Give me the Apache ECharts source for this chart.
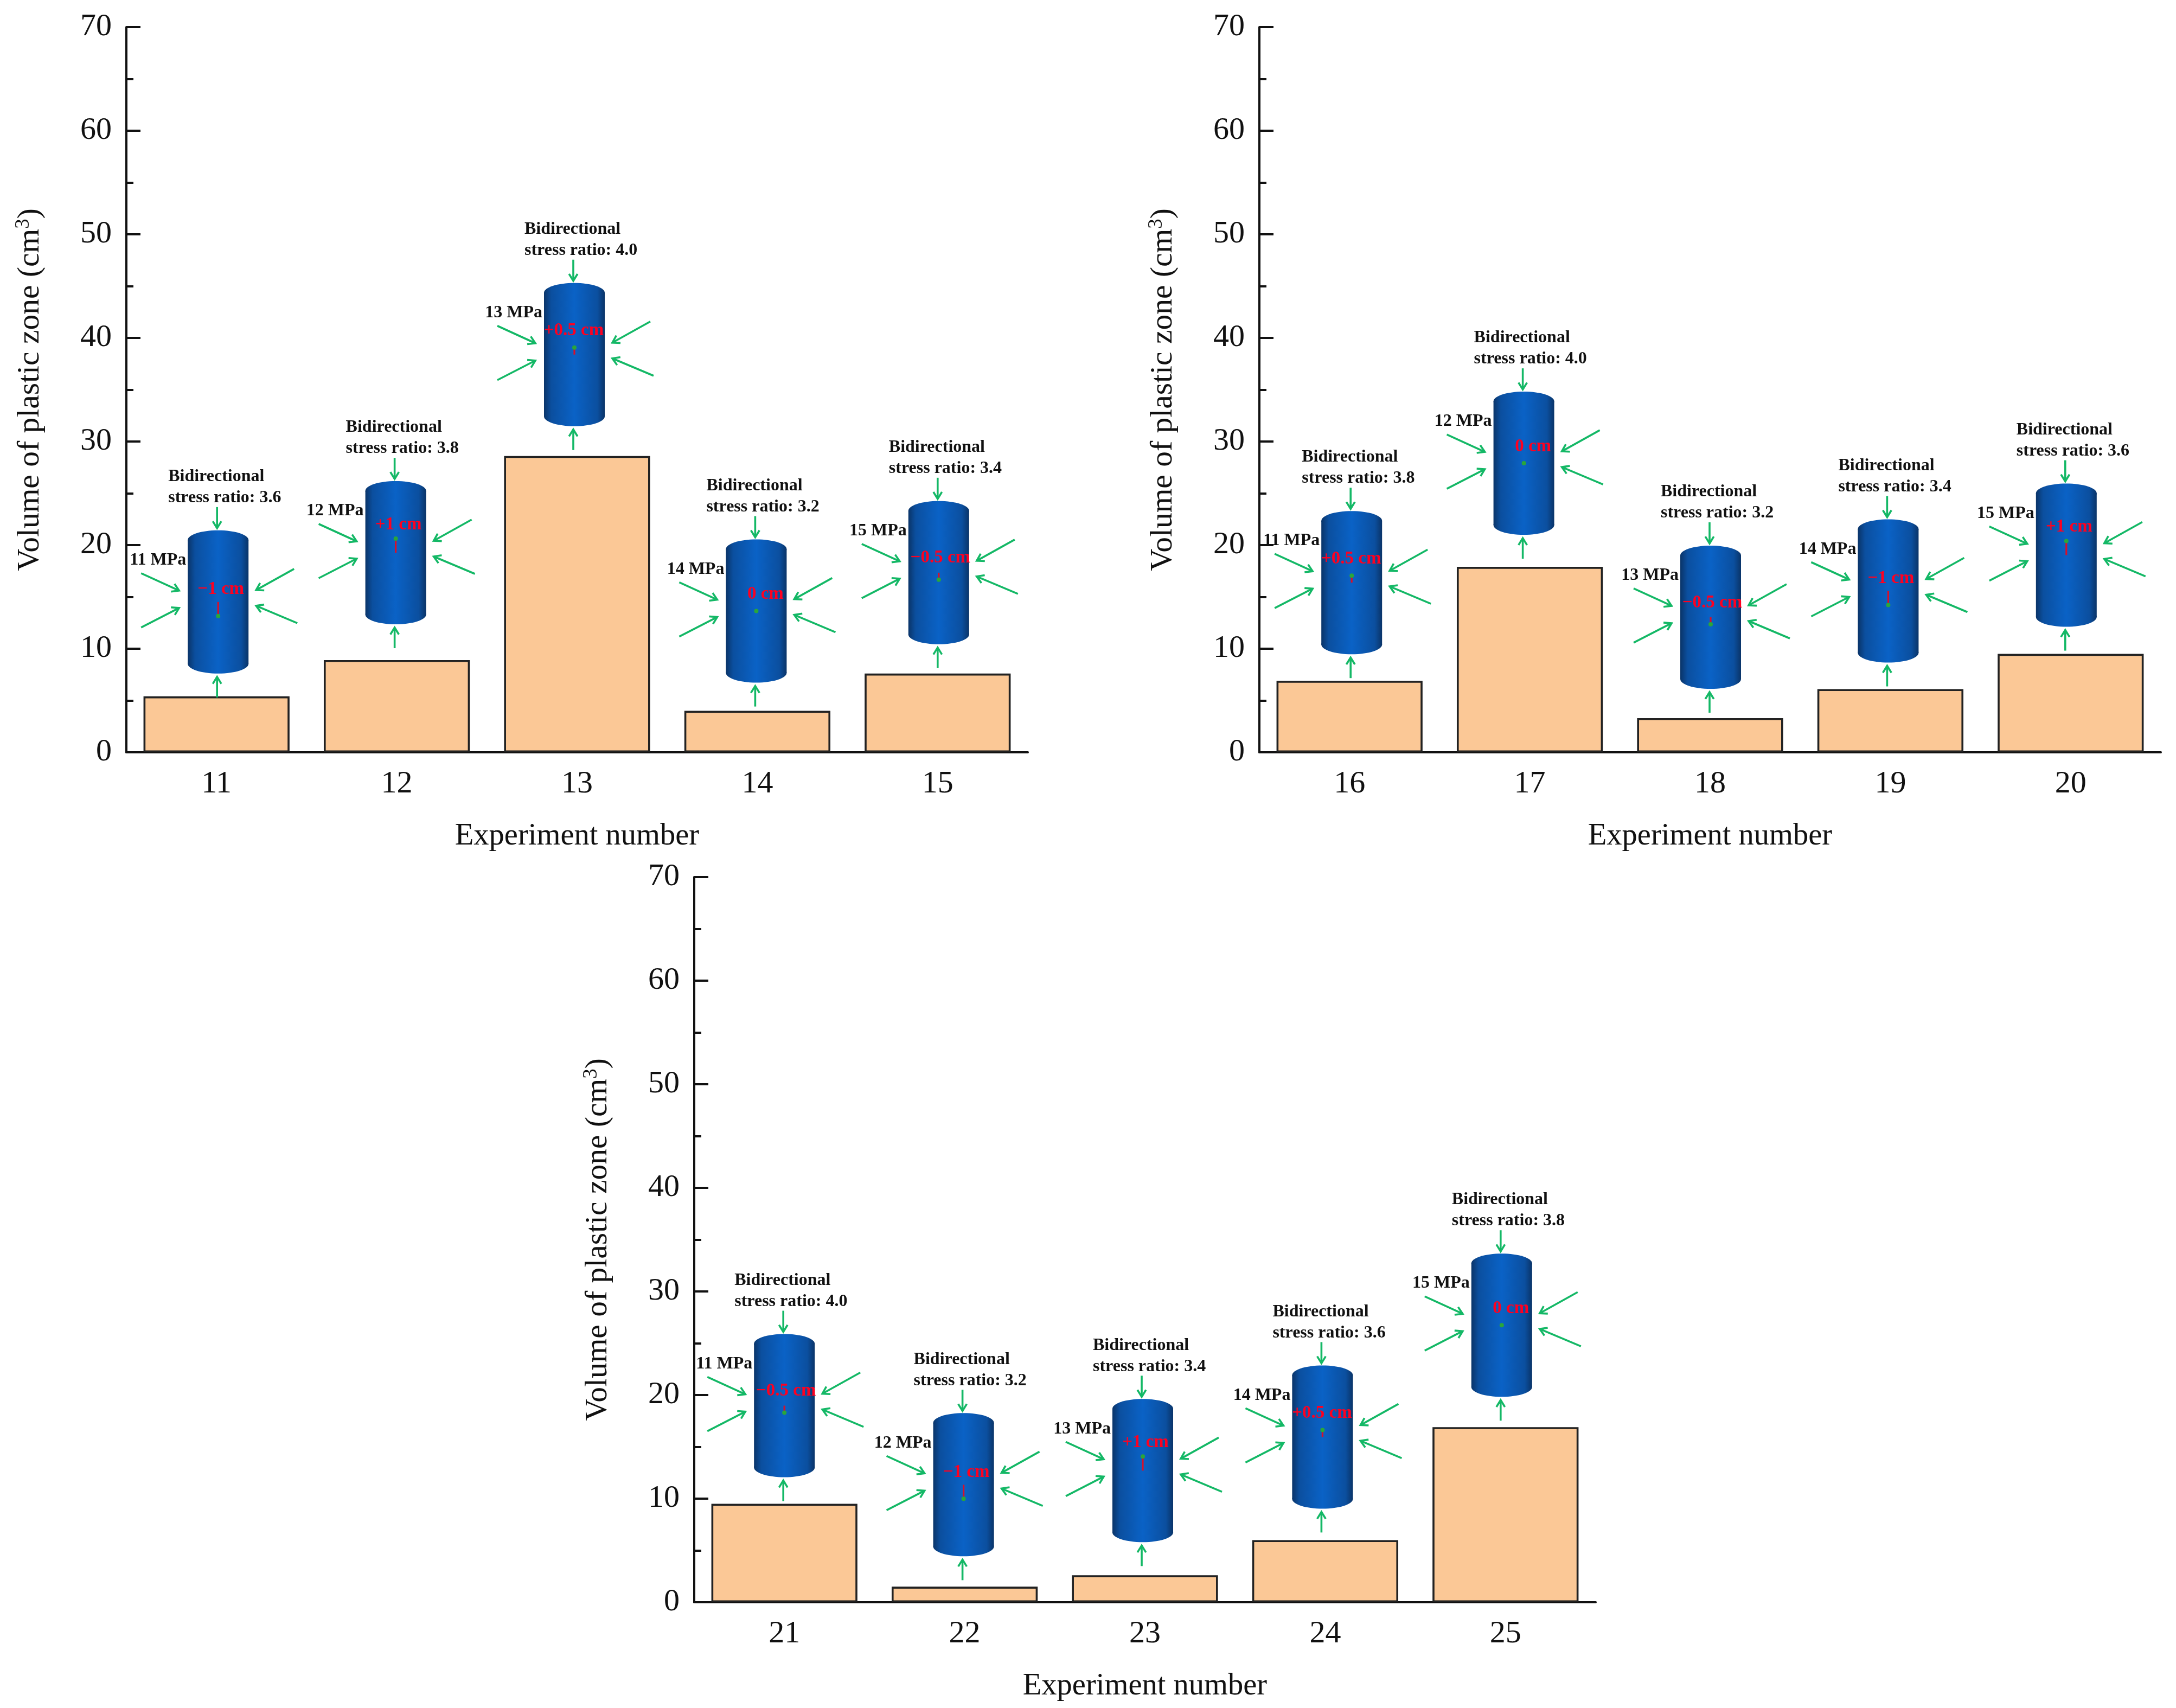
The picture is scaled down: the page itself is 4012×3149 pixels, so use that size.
<!DOCTYPE html>
<html>
<head>
<meta charset="utf-8">
<style>
  html, body { margin: 0; padding: 0; background: #fff; }
  #main { width: 4012px; height: 3149px; }
</style>
<script src="https://cdn.jsdelivr.net/npm/echarts@6/dist/echarts.min.js"></script>
</head>
<body>
<div id="main"></div>
<script>
// 每个面板的数据
const categoriesA = ["11", "12", "13", "14", "15"];
const categoriesB = ["16", "17", "18", "19", "20"];
const categoriesC = ["21", "22", "23", "24", "25"];

const volumeA = [5.4, 8.9, 28.6, 4.0, 7.6];
const volumeB = [6.9, 17.9, 3.3, 6.1, 9.5];
const volumeC = [9.5, 1.5, 2.6, 6.0, 16.9];

const ratioA = ["3.6", "3.8", "4.0", "3.2", "3.4"];
const ratioB = ["3.8", "4.0", "3.2", "3.4", "3.6"];
const ratioC = ["4.0", "3.2", "3.4", "3.6", "3.8"];

const pressure = [11, 12, 13, 14, 15];

const offsetA = [-1, 1, 0.5, 0, -0.5];
const offsetB = [0.5, 0, -0.5, -1, 1];
const offsetC = [-0.5, -1, 1, 0.5, 0];

// 圆柱底部离柱顶的距离（px）
const liftA = [42, 66, 55, 52, 54];
const liftB = [49, 59, 54, 49, 50];
const liftC = [49, 56, 61, 58, 56];

// 圆柱相对类目中心的水平偏移（px）
const nudgeA = [3, -2, -5, -2, 2];
const nudgeB = [4, -11, 1, -4, -8];
const nudgeC = [0, -2, -4, -5, -7];

const FONT = '"Liberation Serif", "Times New Roman", serif';
const GREEN = "#14b866";
const RED = "#ff0020";

// 偏移标签相对圆柱中心的位置
const offsetText = {
  "-1": { label: "\u22121 cm", dx: 5, dy: -23 },
  "-0.5": { label: "\u22120.5 cm", dx: 3, dy: -27 },
  "0": { label: "0 cm", dx: 17, dy: -31 },
  "0.5": { label: "+0.5 cm", dx: -1, dy: -44 },
  "1": { label: "+1 cm", dx: 5, dy: -52 },
};

// 绿色箭头
function arrow(x1, y1, x2, y2) {
  const a = Math.atan2(y2 - y1, x2 - x1);
  const h = 15;
  const spread = 0.55;
  const style = { stroke: GREEN, lineWidth: 3.6, fill: "none" };
  return [
    { type: "line", shape: { x1, y1, x2, y2 }, style },
    {
      type: "polyline",
      shape: {
        points: [
          [x2 - h * Math.cos(a - spread), y2 - h * Math.sin(a - spread)],
          [x2, y2],
          [x2 - h * Math.cos(a + spread), y2 - h * Math.sin(a + spread)],
        ],
      },
      style,
    },
  ];
}

function boldText(text, x, y, align, fill, size) {
  return {
    type: "text",
    style: {
      text,
      x,
      y,
      fill: fill || "#111",
      font: "bold " + (size || 32) + "px " + FONT,
      align,
      verticalAlign: "middle",
    },
  };
}

// 圆柱 + 箭头 + 文字
function renderCylinder(ratios, offsets, lifts, nudges) {
  return function (params, api) {
    const i = api.value(0);
    const top = api.coord([i, api.value(1)]);
    const halfW = 56;
    const halfH = 132;
    const capH = 18;
    const cx = top[0] + nudges[i];
    const cy = top[1] - lifts[i] - halfH;
    const bodyFill = new echarts.graphic.LinearGradient(0, 0, 1, 0, [
      { offset: 0, color: "#0a3468" },
      { offset: 0.12, color: "#0b4f9f" },
      { offset: 0.5, color: "#0a62c6" },
      { offset: 0.88, color: "#0b4f9f" },
      { offset: 1, color: "#0a3468" },
    ]);
    const off = offsets[i];
    const txt = offsetText[String(off)];
    const dotY = cy - off * 26;

    let children = [
      { type: "ellipse", shape: { cx, cy: cy - halfH + capH, rx: halfW, ry: capH }, style: { fill: bodyFill } },
      { type: "ellipse", shape: { cx, cy: cy + halfH - capH, rx: halfW, ry: capH }, style: { fill: bodyFill } },
      {
        type: "rect",
        shape: { x: cx - halfW, y: cy - halfH + capH, width: halfW * 2, height: 2 * (halfH - capH) },
        style: { fill: bodyFill },
      },
    ];
    if (off !== 0) {
      children.push({
        type: "line",
        shape: { x1: cx, y1: cy, x2: cx, y2: dotY },
        style: { stroke: "#d8102a", lineWidth: 3.2 },
      });
    }
    children.push({ type: "circle", shape: { cx, cy: dotY, r: 4 }, style: { fill: "#2aa63a" } });

    children = children.concat(
      arrow(cx - 2, cy - 175, cx - 2, cy - 136),
      arrow(cx - 2, cy + 176, cx - 2, cy + 138),
      arrow(cx - 142, cy - 53, cx - 72, cy - 21),
      arrow(cx - 142, cy + 47, cx - 72, cy + 11),
      arrow(cx + 140, cy - 61, cx + 70, cy - 22),
      arrow(cx + 146, cy + 39, cx + 70, cy + 7)
    );

    children.push(boldText("Bidirectional", cx - 92, cy - 231, "left"));
    children.push(boldText("stress ratio: " + ratios[i], cx - 92, cy - 192, "left"));
    children.push(boldText(pressure[i] + " MPa", cx - 59, cy - 77, "right"));
    children.push(boldText(txt.label, cx + txt.dx, cy + txt.dy, "center", RED, 33));

    return { type: "group", children };
  };
}

const grids = [
  { left: 233, top: 50, width: 1662, height: 1337, outerBoundsMode: "none" },
  { left: 2322, top: 50, width: 1662, height: 1337, outerBoundsMode: "none" },
  { left: 1280, top: 1617, width: 1662, height: 1337, outerBoundsMode: "none" },
];
const panels = [
  { cats: categoriesA, vals: volumeA, ratios: ratioA, offsets: offsetA, lifts: liftA, nudges: nudgeA },
  { cats: categoriesB, vals: volumeB, ratios: ratioB, offsets: offsetB, lifts: liftB, nudges: nudgeB },
  { cats: categoriesC, vals: volumeC, ratios: ratioC, offsets: offsetC, lifts: liftC, nudges: nudgeC },
];

const xAxis = [];
const yAxis = [];
const series = [];
panels.forEach((p, k) => {
  xAxis.push({
    type: "category",
    gridIndex: k,
    data: p.cats,
    name: "Experiment number",
    nameLocation: "middle",
    nameGap: 127,
    nameTextStyle: { fontFamily: FONT, fontSize: 56.5, color: "#111" },
    axisLine: { lineStyle: { color: "#111", width: 4 } },
    axisTick: { show: false },
    axisLabel: { fontFamily: FONT, fontSize: 58, color: "#111", margin: 30 },
  });
  yAxis.push({
    type: "value",
    gridIndex: k,
    min: 0,
    max: 70,
    interval: 10,
    name: "Volume of plastic zone (cm{sup|3})",
    nameLocation: "middle",
    nameRotate: 90,
    nameGap: 147,
    nameTextStyle: {
      fontFamily: FONT,
      fontSize: 57.5,
      color: "#111",
      rich: {
        sup: { fontFamily: FONT, fontSize: 37, color: "#111", padding: [0, 0, 24, 0] },
      },
    },
    axisLine: { show: true, lineStyle: { color: "#111", width: 4 } },
    axisTick: { show: true, inside: true, length: 26, lineStyle: { color: "#111", width: 4 } },
    minorTick: { show: true, splitNumber: 2, length: 13, lineStyle: { color: "#111", width: 4 } },
    splitLine: { show: false },
    minorSplitLine: { show: false },
    axisLabel: { fontFamily: FONT, fontSize: 58, color: "#111", margin: 27 },
  });
  series.push({
    type: "bar",
    xAxisIndex: k,
    yAxisIndex: k,
    data: p.vals,
    barWidth: "81%",
    itemStyle: { color: "#fbc896", borderColor: "#222", borderWidth: 3.6 },
  });
  series.push({
    type: "custom",
    xAxisIndex: k,
    yAxisIndex: k,
    data: p.vals.map((v, i) => [i, v]),
    encode: { x: 0, y: 1 },
    clip: false,
    renderItem: renderCylinder(p.ratios, p.offsets, p.lifts, p.nudges),
    z: 5,
  });
});

const chart = echarts.init(document.getElementById("main"));
chart.setOption({
  animation: false,
  backgroundColor: "#fff",
  grid: grids,
  xAxis,
  yAxis,
  series,
});
</script>
</body>
</html>
